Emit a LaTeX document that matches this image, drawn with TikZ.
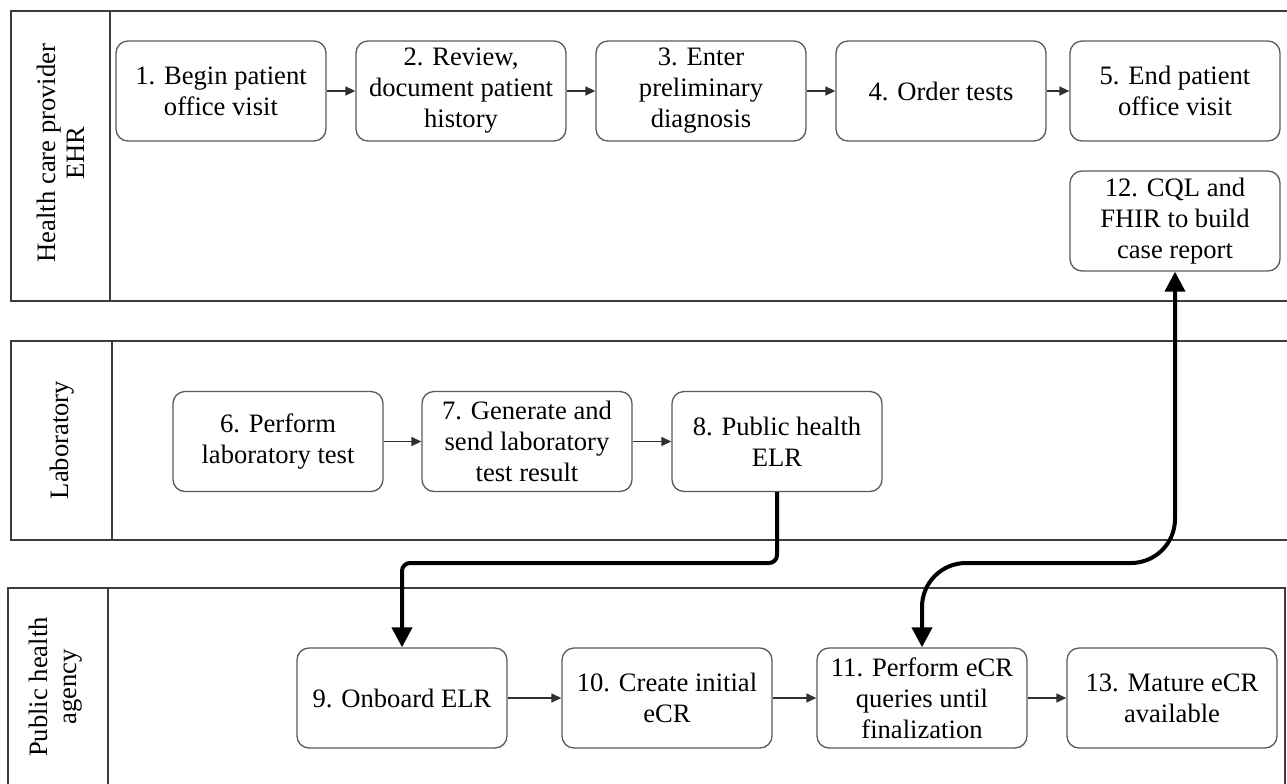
\documentclass[tikz,border=0pt]{standalone}
\usepackage{fontspec}
\setmainfont{Liberation Serif}
\usetikzlibrary{arrows.meta}
\definecolor{boxgray}{HTML}{5A5A5A}
\definecolor{lanegray}{HTML}{3C3C3C}
\definecolor{arrowgray}{HTML}{303030}
\begin{document}
\begin{tikzpicture}[x=0.5pt,y=-0.5pt,
  box/.style={draw=boxgray, line width=0.65pt, rounded corners=6pt, minimum width=105pt,
    minimum height=50pt, inner sep=0pt, align=center, font=\fontsize{13.3}{15.5}\selectfont},
  lane/.style={draw=lanegray, line width=0.75pt},
  lanelabel/.style={rotate=90, align=center, font=\fontsize{13.3}{14.5}\selectfont},
  flow/.style={draw=arrowgray, line width=0.65pt, -{Triangle[length=5pt,width=4.5pt]}},
  bigflow/.style={draw=black, line width=2pt, -{Triangle[length=10pt,width=10pt]}, rounded corners=4pt},
]
\useasboundingbox (0,0) rectangle (1287,783);
\clip (0,0) rectangle (1287,783);

% lanes
\draw[lane] (1300,11) -- (11,11) -- (11,301) -- (1300,301);
\draw[lane] (110,11) -- (110,301);
\draw[lane] (1300,341) -- (11,341) -- (11,540) -- (1300,540);
\draw[lane] (112,341) -- (112,540);
\draw[lane] (8,800) -- (8,588) -- (1285,588) -- (1285,800);
\draw[lane] (108,588) -- (108,800);

\node[lanelabel] (L1) at (61,153) {Health care provider\\EHR};
\node[lanelabel] (L2) at (62,440) {Laboratory};
\node[lanelabel] (L3) at (56,687) {Public health\\agency};

% row 1
\node[box] (n1) at (221,91) {1. Begin patient\\office visit};
\node[box] (n2) at (461,91) {2. Review,\\document patient\\history};
\node[box] (n3) at (701,91) {3. Enter\\preliminary\\diagnosis};
\node[box] (n4) at (941,91) {4. Order tests};
\node[box] (n5) at (1175,91) {5. End patient\\office visit};
\node[box] (n12) at (1175,221) {12. CQL and\\FHIR to build\\case report};

% row 2
\node[box] (n6) at (278,441.5) {6. Perform\\laboratory test};
\node[box] (n7) at (527,441.5) {7. Generate and\\send laboratory\\test result};
\node[box] (n8) at (777,441.5) {8. Public health\\ELR};

% row 3
\node[box] (n9) at (402,698) {9. Onboard ELR};
\node[box] (n10) at (667,698) {10. Create initial\\eCR};
\node[box] (n11) at (922,698) {11. Perform eCR\\queries until\\finalization};
\node[box] (n13) at (1172,698) {13. Mature eCR\\available};

% thin flows
\draw[flow] (n1) -- (n2);
\draw[flow] (n2) -- (n3);
\draw[flow] (n3) -- (n4);
\draw[flow] (n4) -- (n5);
\draw[flow] (n6) -- (n7);
\draw[flow] (n7) -- (n8);
\draw[flow] (n9) -- (n10);
\draw[flow] (n10) -- (n11);
\draw[flow] (n11) -- (n13);

% thick flows
\coordinate (m1) at (777,563);
\draw[bigflow] (n8.south) -- (m1) -| (n9.north);
\coordinate (m2) at (1175,563);
\draw[bigflow, {Triangle[length=10pt,width=10pt]}-{Triangle[length=10pt,width=10pt]}, rounded corners=22pt]
  (n11.north) |- (m2) -- (n12.south);
\end{tikzpicture}
\end{document}
